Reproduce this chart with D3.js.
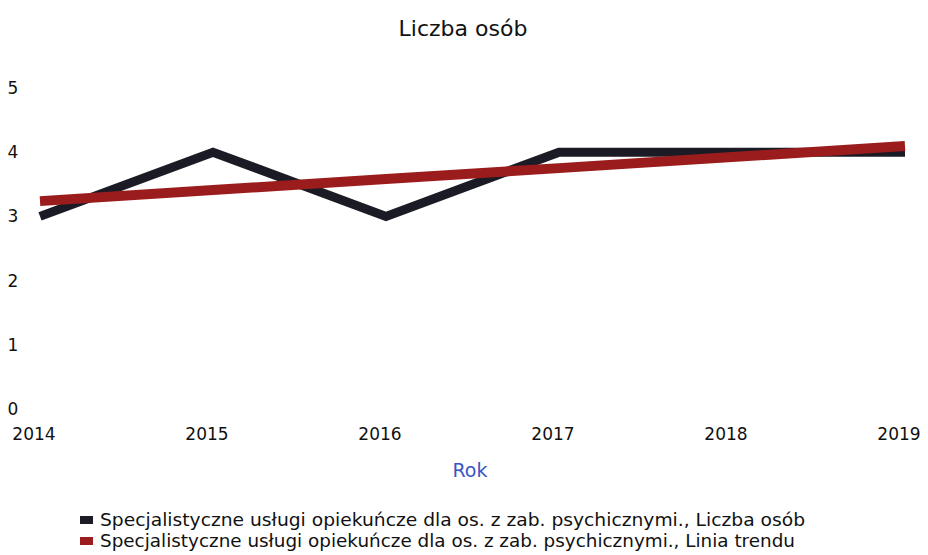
<!DOCTYPE html>
<html><head><meta charset="utf-8">
<script src="https://cdn.jsdelivr.net/npm/d3@7"></script>
<style>body{margin:0;background:#fff;}svg{display:block;font-family:"DejaVu Sans",Verdana,sans-serif;}</style>
</head><body>
<svg id="c" width="928" height="555"></svg>
<script>
const years = ["2014","2015","2016","2017","2018","2019"];
const osoby = [3,4,3,4,4,4];
const trend = [3.238,3.410,3.581,3.752,3.924,4.095];
const yTicks = [0,1,2,3,4,5];
const seriesNames = ["Specjalistyczne usługi opiekuńcze dla os. z zab. psychicznymi., Liczba osób","Specjalistyczne usługi opiekuńcze dla os. z zab. psychicznymi., Linia trendu"];
const colors = ["#1b1b26","#9b1c1c"];

const svg = d3.select("#c");
const x = d3.scalePoint().domain(years).range([40,905]);
const y = d3.scaleLinear().domain([0,5]).range([409,88]);

svg.append("text").attr("x",463).attr("y",36).attr("text-anchor","middle").attr("font-size",22).attr("fill","#111").text("Liczba osób");

svg.selectAll(".yt").data(yTicks).join("text").attr("x",13).attr("y",d=>y(d)+6).attr("text-anchor","middle").attr("font-size",17).attr("fill","#111").text(d=>d);
svg.selectAll(".xt").data(years).join("text").attr("x",d=>x(d)-6).attr("y",440).attr("text-anchor","middle").attr("font-size",17).attr("fill","#111").text(d=>d);
svg.append("text").attr("x",470).attr("y",477).attr("text-anchor","middle").attr("font-size",19).attr("fill","#3a55c4").text("Rok");

const line = d3.line().x((d,i)=>x(years[i])).y(d=>y(d));
svg.append("path").attr("d",line(osoby)).attr("fill","none").attr("stroke",colors[0]).attr("stroke-width",9).attr("stroke-linejoin","miter");
svg.append("path").attr("d",line(trend)).attr("fill","none").attr("stroke",colors[1]).attr("stroke-width",10);

const lg = svg.selectAll(".lg").data(seriesNames).join("g").attr("transform",(d,i)=>`translate(80,${526+i*21})`);
lg.append("rect").attr("x",0).attr("y",-10).attr("width",13).attr("height",8).attr("fill",(d,i)=>colors[i]);
lg.append("text").attr("x",20).attr("y",0).attr("font-size",17).attr("fill","#111").attr("textLength",(d,i)=>i===0?705:695).attr("lengthAdjust","spacingAndGlyphs").text(d=>d);
</script>
</body></html>
